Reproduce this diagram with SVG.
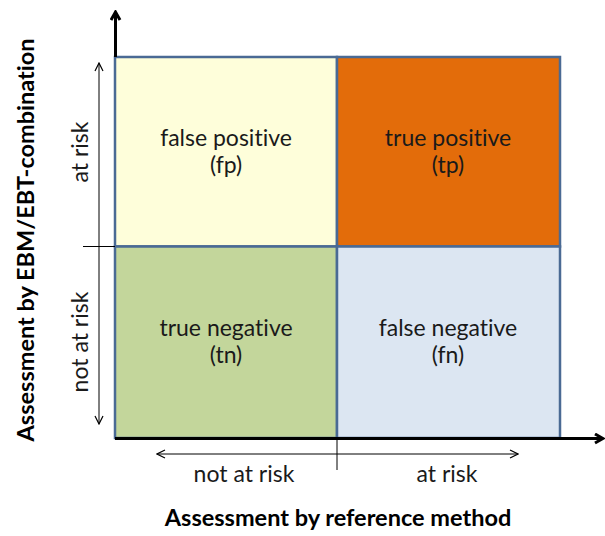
<svg xmlns="http://www.w3.org/2000/svg" width="605" height="536" viewBox="0 0 605 536">
<defs>
<style>
.cell{stroke:#4A6A94;stroke-width:2.5}
.lbl{font-family:Lato,"Liberation Sans",sans-serif;font-size:23px;fill:#1a1a1a;text-anchor:middle;font-variant-ligatures:none}
.ax{font-family:Lato,"Liberation Sans",sans-serif;font-size:23.5px;font-weight:bold;fill:#000;text-anchor:middle;font-variant-ligatures:none}
.thin{stroke:#000;stroke-width:1;fill:none}
.thick{stroke:#000;stroke-width:3;fill:none}
</style>
<marker id="open" viewBox="0 0 10 10" refX="9" refY="5" markerWidth="10" markerHeight="10" markerUnits="userSpaceOnUse" orient="auto-start-reverse">
<path d="M1,1 L9,5 L1,9" fill="none" stroke="#000" stroke-width="1.2"/>
</marker>
<marker id="big" viewBox="0 0 12 12" refX="10" refY="6" markerWidth="12" markerHeight="12" markerUnits="userSpaceOnUse" orient="auto">
<path d="M2,1.5 L10,6 L2,10.5" fill="none" stroke="#000" stroke-width="3"/>
</marker>
</defs>
<g id="fp"><rect class="cell" x="115" y="57" width="222" height="189.5" fill="#FEFEDA"/><text class="lbl" x="226" y="146">false positive</text><text class="lbl" x="226" y="173">(fp)</text></g>
<g id="tp"><rect class="cell" x="337" y="57" width="223" height="189.5" fill="#E36C0A"/><text class="lbl" x="448" y="146">true positive</text><text class="lbl" x="448" y="173">(tp)</text></g>
<g id="tn"><rect class="cell" x="115" y="246.5" width="222" height="191.5" fill="#C3D69B"/><text class="lbl" x="226" y="336">true negative</text><text class="lbl" x="226" y="363">(tn)</text></g>
<g id="fn"><rect class="cell" x="337" y="246.5" width="223" height="191.5" fill="#DCE6F2"/><text class="lbl" x="448" y="336">false negative</text><text class="lbl" x="448" y="363">(fn)</text></g>
<g id="connectors">
<line class="thick" x1="115.5" y1="57" x2="115.5" y2="12" marker-end="url(#big)"/>
<line class="thick" x1="115" y1="438.5" x2="603" y2="438.5" marker-end="url(#big)"/>
<line class="thin" x1="99" y1="63" x2="99" y2="424" marker-start="url(#open)" marker-end="url(#open)"/>
<line class="thin" x1="83" y1="246.5" x2="115" y2="246.5"/>
<line class="thin" x1="157" y1="454" x2="518" y2="454" marker-start="url(#open)" marker-end="url(#open)"/>
<line class="thin" x1="337" y1="438" x2="337" y2="470"/>
</g>
<g id="labels">
<text class="lbl" transform="translate(88,152) rotate(-90)">at risk</text>
<text class="lbl" transform="translate(88,342) rotate(-90)">not at risk</text>
<text class="lbl" x="244" y="482">not at risk</text>
<text class="lbl" x="447" y="482">at risk</text>
<text class="ax" x="338" y="526">Assessment by reference method</text>
<text class="ax" transform="translate(34,240) rotate(-90)">Assessment by EBM/EBT-combination</text>
</g>
</svg>
